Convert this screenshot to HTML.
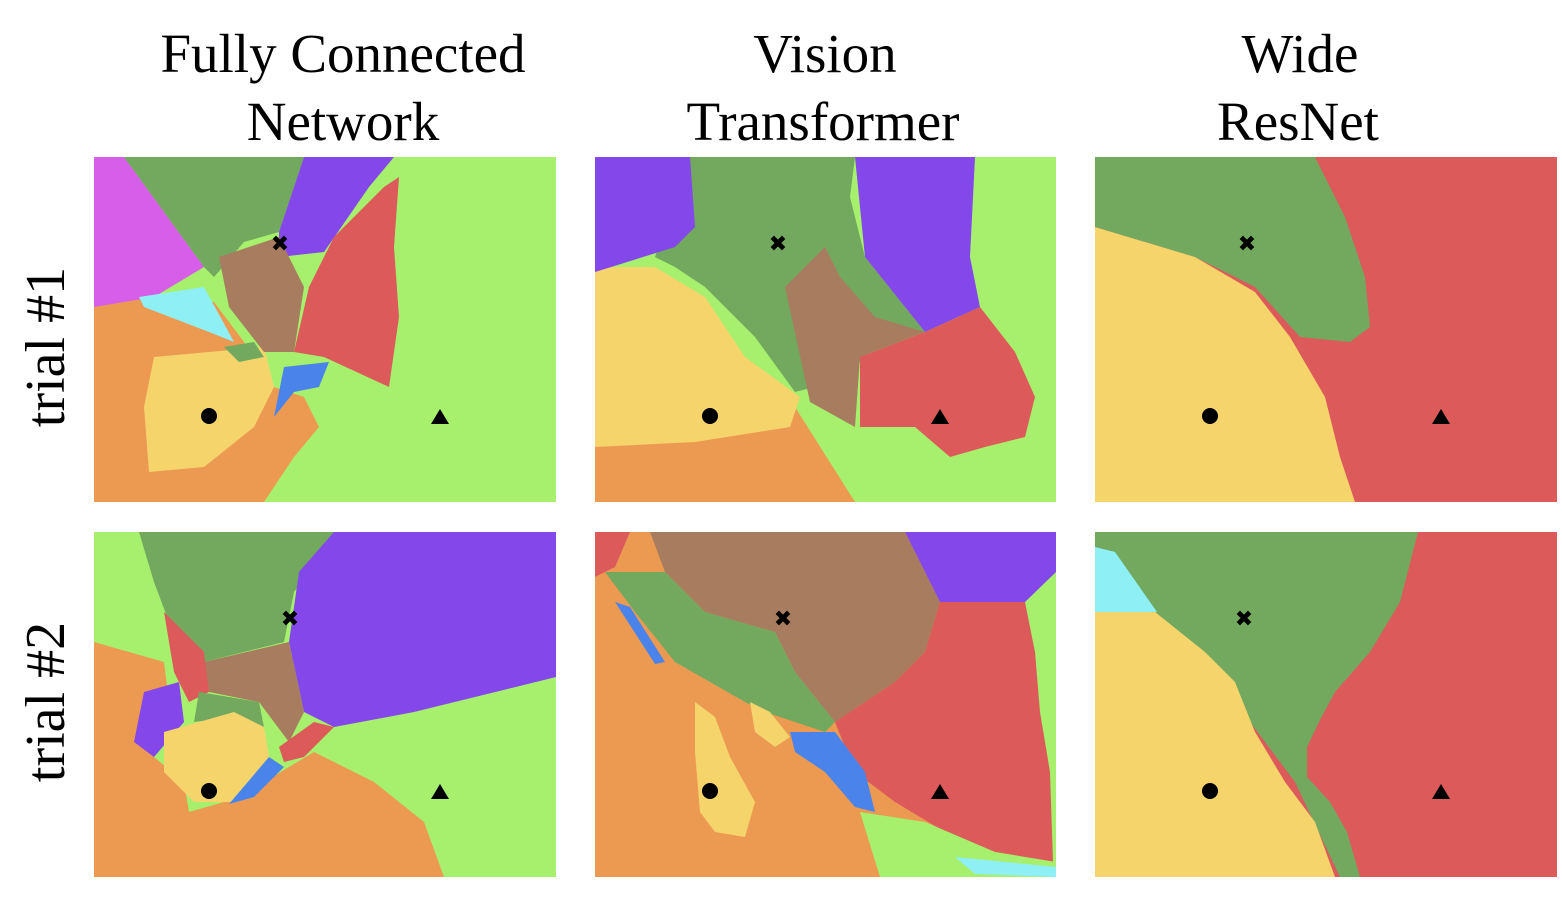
<!DOCTYPE html>
<html><head><meta charset="utf-8"><style>
body{margin:0;background:#fff;}
svg{display:block}
text{font-family:"Liberation Serif",serif;font-size:55px;fill:#000}
</style></head><body>
<svg width="1562" height="911" viewBox="0 0 1562 911" xmlns="http://www.w3.org/2000/svg">
<rect width="1562" height="911" fill="#fff"/>
<g text-anchor="middle">
<text x="343" y="72">Fully Connected</text><text x="343" y="140">Network</text>
<text x="825" y="72">Vision</text><text x="823" y="140">Transformer</text>
<text x="1300" y="72">Wide</text><text x="1298" y="140">ResNet</text>
<text transform="translate(64,347) rotate(-90)" style="font-size:56px">trial #1</text>
<text transform="translate(64,702) rotate(-90)" style="font-size:56px">trial #2</text>
</g>
<!-- FCN 1 -->
<g transform="translate(94,157)">
<rect width="462" height="345" fill="#a6f06e"/>
<polygon fill="#ec9a52" points="0,150 45,140 120,145 150,185 180,230 210,240 225,270 200,300 170,345 0,345"/>
<polygon fill="#f5d46c" points="60,200 170,190 180,230 160,270 110,310 55,315 50,250"/>
<polygon fill="#d65ee8" points="0,0 30,0 110,110 60,140 0,150"/>
<polygon fill="#73a85f" points="30,0 210,0 185,75 150,85 120,120 110,110"/>
<polygon fill="#8347ea" points="210,0 300,0 275,30 230,95 185,100 185,75"/>
<polygon fill="#a87c5e" points="125,100 185,80 210,130 200,195 170,195 135,150"/>
<polygon fill="#dd5a5a" points="290,30 305,20 300,90 305,160 295,230 230,200 200,195 215,130 240,80"/>
<polygon fill="#8ef0f5" points="45,140 110,130 140,185 115,175 50,150"/>
<polygon fill="#4a84ea" points="190,210 235,205 225,230 200,235 180,260"/>
<polygon fill="#73a85f" points="130,190 160,185 170,200 145,205"/>
</g>
<!-- ViT 1 -->
<g transform="translate(595,157)">
<rect width="461" height="345" fill="#a6f06e"/>
<polygon fill="#ec9a52" points="0,240 200,250 260,345 0,345"/>
<polygon fill="#f5d46c" points="0,110 60,110 110,140 150,200 205,240 195,270 100,285 0,290"/>
<polygon fill="#73a85f" points="95,0 260,0 255,40 270,100 330,175 280,190 260,210 220,230 200,235 160,180 110,130 80,110 60,100"/>
<polygon fill="#8347ea" points="0,0 95,0 100,70 80,90 0,115"/>
<polygon fill="#8347ea" points="260,0 380,0 375,100 385,150 330,175 270,100"/>
<polygon fill="#a87c5e" points="190,130 230,90 245,120 280,160 330,175 265,200 260,270 215,245"/>
<polygon fill="#dd5a5a" points="265,200 330,175 385,150 420,195 440,240 430,280 390,290 355,300 320,270 265,270"/>
</g>
<!-- WRN 1 -->
<g transform="translate(1095,157)">
<rect width="462" height="345" fill="#dd5a5a"/>
<polygon fill="#73a85f" points="0,0 220,0 250,60 270,120 275,170 255,185 205,180 160,130 100,100 0,70"/>
<polygon fill="#f5d46c" points="0,70 100,100 160,135 195,180 230,240 245,300 260,345 0,345"/>
</g>
<!-- FCN 2 -->
<g transform="translate(94,532)">
<rect width="462" height="345" fill="#a6f06e"/>
<polygon fill="#ec9a52" points="0,110 70,130 75,170 50,200 60,225 90,250 95,280 130,270 170,250 220,220 280,250 330,290 350,345 0,345"/>
<polygon fill="#73a85f" points="45,0 240,0 230,20 200,60 190,110 110,130 75,90 60,50"/>
<polygon fill="#8347ea" points="240,0 462,0 462,145 320,180 240,195 210,180 195,110 205,40"/>
<polygon fill="#a87c5e" points="110,130 195,110 210,180 195,210 165,170 115,160"/>
<polygon fill="#dd5a5a" points="70,80 110,120 115,160 95,170 80,140"/>
<polygon fill="#dd5a5a" points="185,215 220,190 240,195 210,225 190,230"/>
<polygon fill="#8347ea" points="50,160 85,150 90,190 60,225 40,210"/>
<polygon fill="#73a85f" points="105,160 165,170 170,195 140,185 100,190"/>
<polygon fill="#f5d46c" points="70,200 140,180 170,195 175,225 160,245 140,270 100,270 70,240"/>
<polygon fill="#4a84ea" points="135,272 175,225 190,235 160,265"/>
</g>
<!-- ViT 2 -->
<g transform="translate(595,532)">
<rect width="461" height="345" fill="#ec9a52"/>
<polygon fill="#a6f06e" points="420,60 461,40 461,345 400,320"/>
<polygon fill="#a87c5e" points="55,0 310,0 345,70 330,120 300,150 240,190 200,140 180,100 110,80 70,40"/>
<polygon fill="#73a85f" points="10,40 70,40 110,80 180,100 200,140 240,190 230,200 170,180 150,170 80,130 40,80"/>
<polygon fill="#8347ea" points="310,0 461,0 461,40 430,70 345,70"/>
<polygon fill="#dd5a5a" points="345,70 430,70 440,120 445,180 455,240 458,330 400,320 350,300 300,270 260,240 240,190 300,150 330,120"/>
<polygon fill="#dd5a5a" points="0,0 35,0 20,35 0,45"/>
<polygon fill="#f5d46c" points="100,170 120,185 135,225 160,270 150,305 120,300 105,280 100,220"/>
<polygon fill="#f5d46c" points="155,170 175,180 195,205 180,215 160,200"/>
<polygon fill="#4a84ea" points="195,200 240,200 270,240 280,280 260,275 230,240 200,220"/>
<polygon fill="#4a84ea" points="20,70 35,75 70,130 60,132"/>
<polygon fill="#a6f06e" points="265,280 330,290 400,320 461,330 461,345 285,345"/>
<polygon fill="#8ef0f5" points="360,325 461,335 461,345 380,342"/>
</g>
<!-- WRN 2 -->
<g transform="translate(1095,532)">
<rect width="462" height="345" fill="#dd5a5a"/>
<polygon fill="#73a85f" points="0,0 323,0 305,70 275,120 240,160 225,188 212,215 212,245 235,270 252,300 265,345 245,345 200,250 140,170 90,110 0,80"/>
<polygon fill="#8ef0f5" points="0,15 20,20 62,80 0,85"/>
<polygon fill="#f5d46c" points="0,80 60,80 110,120 140,150 160,200 190,250 220,290 240,345 0,345"/>
</g>
<!-- markers -->
<g fill="#000">
<g text-anchor="middle">
<text x="280" y="251" style="font-family:'DejaVu Sans';font-size:22px;font-weight:bold">✖</text>
<text x="778" y="251" style="font-family:'DejaVu Sans';font-size:22px;font-weight:bold">✖</text>
<text x="1247" y="251" style="font-family:'DejaVu Sans';font-size:22px;font-weight:bold">✖</text>
<text x="290" y="626" style="font-family:'DejaVu Sans';font-size:22px;font-weight:bold">✖</text>
<text x="783" y="626" style="font-family:'DejaVu Sans';font-size:22px;font-weight:bold">✖</text>
<text x="1244" y="626" style="font-family:'DejaVu Sans';font-size:22px;font-weight:bold">✖</text>
</g>
<circle cx="209" cy="416" r="8"/><circle cx="710" cy="416" r="8"/><circle cx="1210" cy="416" r="8"/>
<circle cx="209" cy="791" r="8"/><circle cx="710" cy="791" r="8"/><circle cx="1210" cy="791" r="8"/>
<polygon points="440,409 449,424 431,424"/><polygon points="940,409 949,424 931,424"/><polygon points="1441,409 1450,424 1432,424"/>
<polygon points="440,784 449,799 431,799"/><polygon points="940,784 949,799 931,799"/><polygon points="1441,784 1450,799 1432,799"/>
</g>
</svg>
</body></html>
